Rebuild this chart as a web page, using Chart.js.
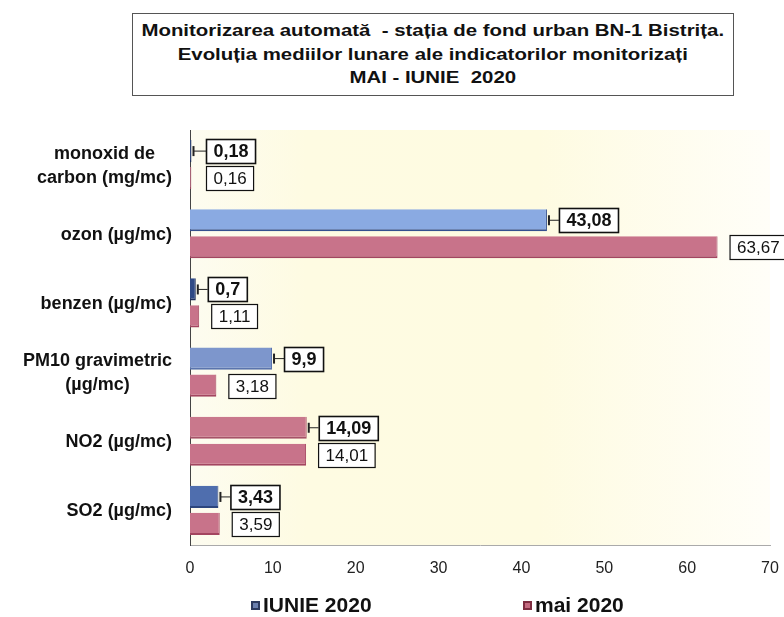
<!DOCTYPE html>
<html>
<head>
<meta charset="utf-8">
<script src="https://cdn.jsdelivr.net/npm/chart.js@4.4.1/dist/chart.umd.min.js"></script>
<style>
  html, body { margin: 0; padding: 0; background: #fff; }
  #wrap { position: relative; width: 784px; height: 617px; overflow: hidden; }
  #title {
    position: absolute; left: 132px; top: 13px; width: 600px; height: 81px;
    border: 1px solid #555; background: #fff;
    font: bold 17px "Liberation Sans", Arial, sans-serif; color: #111;
    text-align: center; line-height: 23.5px; z-index: 2;
  }
  #title span { display: inline-block; transform: scaleX(1.2); transform-origin: center; padding-top: 5px; white-space: nowrap; }
  canvas { position: absolute; left: 0; top: 0; }
</style>
</head>
<body>
<div id="wrap">
  <div id="title"><span>Monitorizarea automată&nbsp; - stația de fond urban BN-1 Bistrița.<br>Evoluția mediilor lunare ale indicatorilor monitorizați<br>MAI - IUNIE&nbsp; 2020</span></div>
  <canvas id="chart" width="784" height="617"></canvas>
</div>
<script>
// indicatori si medii lunare
const categories = [
    ['monoxid de', 'carbon (mg/mc)'],
    'ozon (µg/mc)',
    'benzen (µg/mc)',
    ['PM10 gravimetric', '(µg/mc)'],
    'NO2 (µg/mc)',
    'SO2 (µg/mc)'
];
const iunie2020 = [0.18, 43.08, 0.7, 9.9, 14.09, 3.43];
const mai2020 = [0.16, 63.67, 1.11, 3.18, 14.01, 3.59];
const xTicks = [0, 10, 20, 30, 40, 50, 60, 70];

const FONT = '"Liberation Sans", Arial, sans-serif';
const iunieColors = ['#2f4a86', '#8aaae2', '#2f4a86', '#7d96cc', '#c9788c', '#4f6eae'];
const iunieBorders = ['#1d2f5c', '#34508e', '#1d2f5c', '#5a74ad', '#a65268', '#2c467e'];

function fmt(v) {
    return String(v).replace('.', ',');
}

// fundal galbui in zona graficului
const bgPlugin = {
    id: 'bgPlugin',
    beforeDraw(chart) {
        const { ctx, chartArea: a } = chart;
        const g = ctx.createLinearGradient(a.left, 0, a.right, 0);
        g.addColorStop(0, '#fdfcf0');
        g.addColorStop(0.2, '#fefbe2');
        g.addColorStop(0.6, '#fefbe1');
        g.addColorStop(1, '#fffef8');
        ctx.save();
        ctx.fillStyle = g;
        ctx.fillRect(a.left, a.top, a.right - a.left, a.bottom - a.top);
        ctx.restore();
    }
};

// etichetele categoriilor: aliniate la dreapta, randurile centrate intre ele
const categoryLabels = {
    id: 'categoryLabels',
    afterDraw(chart) {
        const ctx = chart.ctx;
        const yScale = chart.scales.y;
        const right = 172;
        const lineH = 24;
        ctx.save();
        ctx.font = 'bold 18px ' + FONT;
        ctx.fillStyle = '#111';
        ctx.textAlign = 'center';
        ctx.textBaseline = 'middle';
        chart.data.labels.forEach((lbl, i) => {
            const lines = Array.isArray(lbl) ? lbl : [lbl];
            const maxW = Math.max(...lines.map(l => ctx.measureText(l).width));
            const cx = right - maxW / 2;
            const cy = yScale.getPixelForValue(i);
            lines.forEach((l, k) => {
                ctx.fillText(l, cx, cy + (k - (lines.length - 1) / 2) * lineH + 1);
            });
        });
        ctx.restore();
    }
};

// etichete in chenar la capatul barelor
const boxLabels = {
    id: 'boxLabels',
    afterDatasetsDraw(chart) {
        const ctx = chart.ctx;
        chart.data.datasets.forEach((ds, di) => {
            const meta = chart.getDatasetMeta(di);
            const bold = di === 0;
            meta.data.forEach((bar, i) => {
                const txt = fmt(ds.data[i]);
                ctx.save();
                ctx.font = (bold ? 'bold 18px ' : '17px ') + FONT;
                const w = ctx.measureText(txt).width + 14;
                const h = 24;
                const left = Math.max(bar.x + 12, chart.chartArea.left + 16);
                const top = Math.round(bar.y - h / 2);
                if (bold) {
                    ctx.strokeStyle = '#222';
                    ctx.lineWidth = 1;
                    ctx.beginPath();
                    ctx.moveTo(bar.x + 2, bar.y);
                    ctx.lineTo(left, bar.y);
                    ctx.stroke();
                    ctx.fillStyle = '#222';
                    ctx.fillRect(bar.x + 1, bar.y - 5, 2, 10);
                }
                ctx.fillStyle = '#fff';
                ctx.fillRect(left, top, w, h);
                ctx.strokeStyle = '#111';
                ctx.lineWidth = bold ? 1.6 : 1.2;
                ctx.strokeRect(left + 0.5, top + 0.5, w, h);
                ctx.fillStyle = '#111';
                ctx.textAlign = 'left';
                ctx.textBaseline = 'middle';
                ctx.fillText(txt, left + 7.5, top + h / 2 + 1.5);
                ctx.restore();
            });
        });
    }
};

// legenda jos
const bottomLegend = {
    id: 'bottomLegend',
    afterDraw(chart) {
        const ctx = chart.ctx;
        const items = [
            { x: 251, fill: '#6a7fae', edge: '#2c3a5e' },
            { x: 523, fill: '#c46a80', edge: '#7e2c40' }
        ];
        ctx.save();
        ctx.font = 'bold 21px ' + FONT;
        ctx.textBaseline = 'middle';
        chart.data.datasets.forEach((ds, i) => {
            const it = items[i];
            const y = 605;
            ctx.fillStyle = it.edge;
            ctx.fillRect(it.x, y - 4, 9, 9);
            ctx.fillStyle = it.fill;
            ctx.fillRect(it.x + 2, y - 2, 5, 5);
            ctx.fillStyle = '#111';
            ctx.fillText(ds.label, it.x + 12, y + 1);
        });
        ctx.restore();
    }
};

new Chart(document.getElementById('chart'), {
    type: 'bar',
    data: {
        labels: categories,
        datasets: [
            {
                label: 'IUNIE 2020',
                data: iunie2020,
                backgroundColor: iunieColors,
                borderColor: iunieBorders,
                borderWidth: { top: 0, left: 0, right: 1, bottom: 2 },
                borderSkipped: false,
                categoryPercentage: 0.78,
                barPercentage: 0.82
            },
            {
                label: 'mai 2020',
                data: mai2020,
                backgroundColor: '#c8738a',
                borderColor: '#a34560',
                borderWidth: { top: 0, left: 0, right: 1, bottom: 2 },
                borderSkipped: false,
                categoryPercentage: 0.78,
                barPercentage: 0.82
            }
        ]
    },
    options: {
        indexAxis: 'y',
        responsive: false,
        animation: false,
        layout: { padding: { top: 130, right: 14, bottom: 0, left: 0 } },
        scales: {
            x: {
                min: 0,
                max: 70,
                afterBuildTicks: (scale) => { scale.ticks = xTicks.map(v => ({ value: v })); },
                grid: { display: false, drawTicks: false },
                border: { display: true, color: '#aaa', dash: [2, 2] },
                ticks: { color: '#222', font: { family: FONT, size: 16 }, padding: 14 },
                afterFit: (scale) => {
                    scale.height = 72;
                    scale.paddingLeft = 0;
                    scale.paddingRight = 0;
                }
            },
            y: {
                grid: { display: false, drawTicks: false },
                border: { display: true, color: '#444', width: 1 },
                ticks: { display: false },
                afterFit: (scale) => { scale.width = 190; }
            }
        },
        plugins: {
            legend: { display: false },
            tooltip: { enabled: false }
        }
    },
    plugins: [bgPlugin, categoryLabels, boxLabels, bottomLegend]
});
</script>
</body>
</html>
